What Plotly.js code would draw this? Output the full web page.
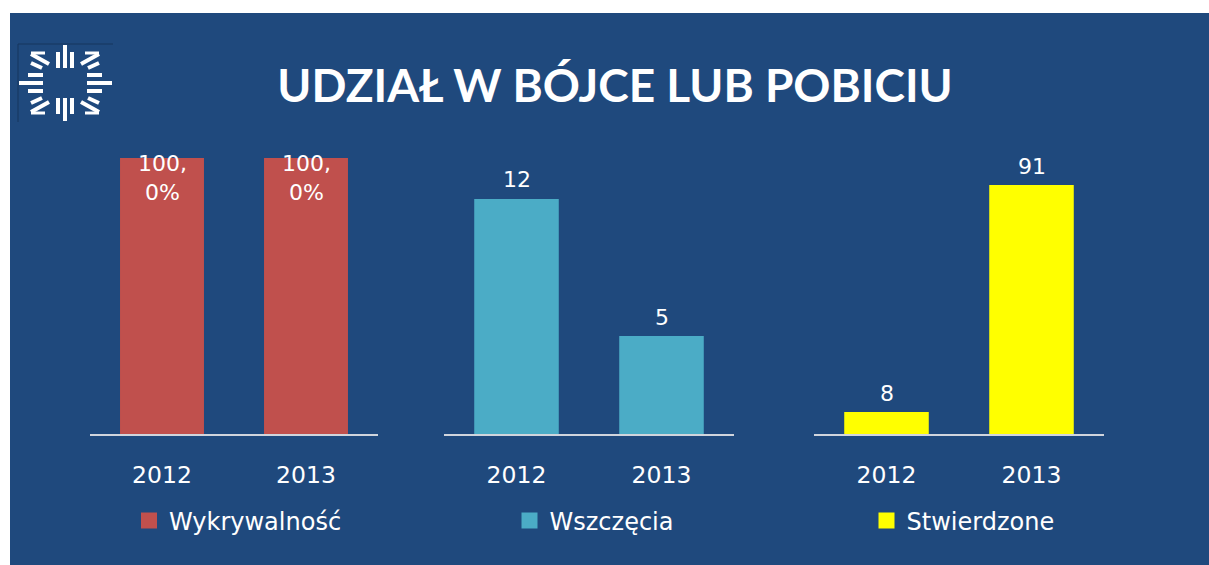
<!DOCTYPE html>
<html>
<head>
<meta charset="utf-8">
<script src="https://cdn.plot.ly/plotly-3.0.1.min.js"></script>
<style>html,body{margin:0;padding:0;background:#fff;}#chart{width:1209px;height:565px;}</style>
</head>
<body>
<div id="chart"></div>
<script>
// ---- data ----
const years = ['2012', '2013'];
const seriesNames = ['Wykrywalność', 'Wszczęcia', 'Stwierdzone'];
const wykrywalnosc = [100.0, 100.0];   // percent
const wszczecia = [12, 5];
const stwierdzone = [8, 91];
const chartTitle = 'UDZIAŁ W BÓJCE LUB POBICIU';

// ---- styling ----
const W = 1209, H = 565;
const BG = '#1F497D';
const colors = ['#C0504D', '#4BACC6', '#FFFF00'];
const FONT = 'DejaVu Sans, Verdana, sans-serif';
const px = x => x / W;
const py = y => 1 - y / H;

const seriesValues = [wykrywalnosc, wszczecia, stwierdzone];
const xaxes = ['x', 'x2', 'x3'];
const yaxes = ['y', 'y2', 'y3'];
const legends = ['legend', 'legend2', 'legend3'];

const traces = [];
const annotations = [];
seriesValues.forEach((vals, i) => {
  traces.push({
    type: 'bar', x: years, y: vals, xaxis: xaxes[i], yaxis: yaxes[i],
    marker: {color: colors[i]}, showlegend: false, hoverinfo: 'x+y'
  });
  // legend entry (square swatch)
  traces.push({
    type: 'scatter', mode: 'markers', x: [null], y: [null],
    xaxis: xaxes[i], yaxis: yaxes[i], name: seriesNames[i],
    marker: {symbol: 'square', size: 16, color: colors[i]},
    legend: legends[i], showlegend: true
  });
  vals.forEach((v, j) => {
    const isPct = i === 0;
    annotations.push({
      xref: xaxes[i], yref: yaxes[i], x: j, y: v,   // j = category index of years[j]
      text: isPct ? v.toFixed(1).replace('.', ',<br>') + '%' : String(v),
      showarrow: false, yanchor: 'middle', yshift: isPct ? -20 : 19,
      font: {family: FONT, size: 22, color: '#FFFFFF'}
    });
  });
});

// ---- decorative background and logo ----
const shapes = [{
  type: 'rect', xref: 'paper', yref: 'paper', x0: px(10), x1: 1, y0: 0, y1: py(13),
  fillcolor: BG, line: {width: 0}, layer: 'below'
}];
function seg(x0, y0, x1, y1, w, c) {
  shapes.push({type: 'line', xref: 'paper', yref: 'paper',
    x0: px(x0), y0: py(y0), x1: px(x1), y1: py(y1),
    line: {color: c || '#FFFFFF', width: w || 4}, layer: 'above'});
}
// logo frame lines
seg(18, 44, 18, 122, 1, '#17365F');
seg(18, 44, 113, 44, 1, '#17365F');
const cx = 65, cy = 83;
// vertical rays
seg(cx, 45, cx, 68, 4); seg(cx - 7, 52, cx - 7, 68, 4); seg(cx + 7, 52, cx + 7, 68, 4);
seg(cx, 98, cx, 121, 4); seg(cx - 7, 98, cx - 7, 114, 4); seg(cx + 7, 98, cx + 7, 114, 4);
// horizontal rays
seg(19, cy, 43, cy, 4); seg(28, cy - 8, 43, cy - 8, 4); seg(28, cy + 8, 43, cy + 8, 4);
seg(87, cy, 112, cy, 4); seg(87, cy - 8, 102, cy - 8, 4); seg(87, cy + 8, 102, cy + 8, 4);
// diagonal rays
seg(31, 54, 49, 64, 4); seg(31, 63, 42, 68, 4); seg(31, 53, 45, 53, 3);
seg(99, 54, 81, 64, 4); seg(99, 63, 88, 68, 4); seg(85, 53, 99, 53, 3);
seg(31, 112, 49, 102, 4); seg(31, 103, 42, 98, 4); seg(31, 113, 45, 113, 3);
seg(99, 112, 81, 102, 4); seg(99, 103, 88, 98, 4); seg(85, 113, 99, 113, 3);

// ---- axes ----
const yDom = [py(434), py(150)];
const yRanges = [[0, 102.9], [0, 14.5], [0, 103.8]];
const xDoms = [[px(90), px(378)], [px(444), px(734)], [px(814), px(1104)]];
const legendX = [238, 594, 963];

const layout = {
  width: W, height: H,
  margin: {l: 0, r: 0, t: 0, b: 0},
  paper_bgcolor: '#FFFFFF', plot_bgcolor: 'rgba(0,0,0,0)',
  bargap: 0.417,
  title: {
    text: '<b>' + chartTitle + '</b>', x: px(615), xanchor: 'center',
    y: py(86), yanchor: 'middle', yref: 'paper',
    font: {family: 'Lato, Open Sans, sans-serif', size: 46, color: '#FFFFFF'}
  },
  shapes: shapes,
  annotations: annotations,
  showlegend: true
};
for (let i = 0; i < 3; i++) {
  const sx = i === 0 ? '' : String(i + 1);
  layout['xaxis' + sx] = {
    domain: xDoms[i], anchor: yaxes[i], type: 'category', range: [-0.5, 1.5],
    showline: true, linecolor: '#D0D5DD', linewidth: 2, showgrid: false,
    zeroline: false, ticks: '', ticklabelstandoff: 19, fixedrange: true,
    tickfont: {family: FONT, size: 23.5, color: '#FFFFFF'}
  };
  layout['yaxis' + sx] = {
    domain: yDom, anchor: xaxes[i], range: yRanges[i], visible: false,
    showgrid: false, zeroline: false, fixedrange: true
  };
  layout[legends[i]] = {
    x: px(legendX[i]), xanchor: 'center', y: py(521), yanchor: 'middle',
    xref: 'paper', yref: 'paper', orientation: 'h', bgcolor: 'rgba(0,0,0,0)',
    font: {family: FONT, size: 24, color: '#FFFFFF'}, itemclick: false, itemdoubleclick: false
  };
}

Plotly.newPlot('chart', traces, layout, {displayModeBar: false, staticPlot: true});
</script>
</body>
</html>
